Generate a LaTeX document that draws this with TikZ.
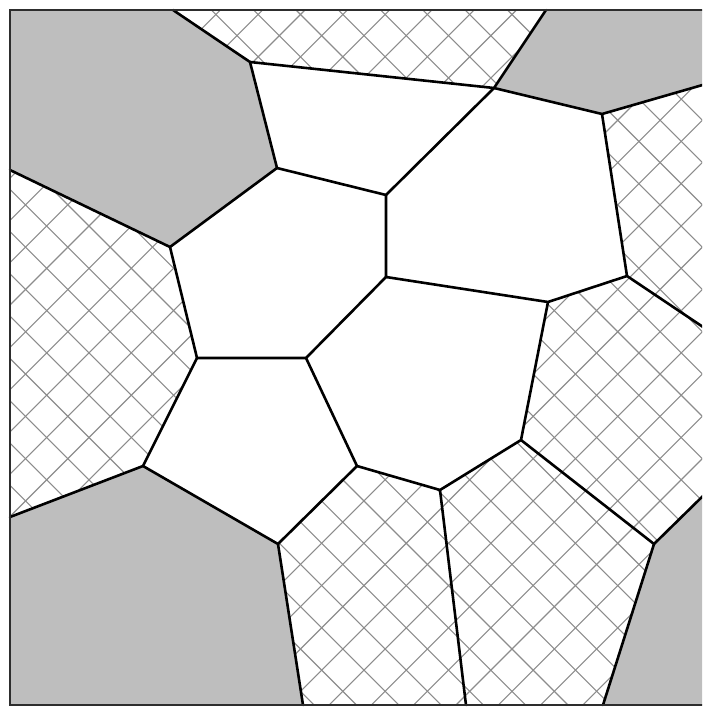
\documentclass[tikz,border=0pt]{standalone}
\definecolor{cellgray}{RGB}{190,190,190}
\definecolor{hatchgray}{RGB}{140,140,140}
\definecolor{framecol}{RGB}{45,45,45}
\begin{document}
\begin{tikzpicture}[x=1pt,y=-1pt,
  edge/.style={line width=2.6pt, line join=round, line cap=round, black},
  hatchline/.style={line width=1.1pt, hatchgray},
  solidcell/.style={fill=cellgray, draw=none}]
\useasboundingbox (0,0) rectangle (702,707);
\clip (0,0) rectangle (702,707);
% vertices
\coordinate (TL) at (10,10);
\coordinate (TR) at (706,10);
\coordinate (BL) at (10,705);
\coordinate (BR) at (706,705);
\coordinate (A) at (173,10);
\coordinate (B) at (250,62);
\coordinate (C) at (277,168);
\coordinate (D) at (170,247);
\coordinate (E) at (10,170);
\coordinate (F) at (494,88);
\coordinate (G) at (546,10);
\coordinate (H) at (602,114);
\coordinate (Hr) at (706,84);
\coordinate (I) at (386,195);
\coordinate (J) at (386,277);
\coordinate (K) at (548,302);
\coordinate (L) at (627,276);
\coordinate (Lr) at (706,329);
\coordinate (N) at (197,358);
\coordinate (O) at (306,358);
\coordinate (P) at (143,466);
\coordinate (Q) at (10,517);
\coordinate (R) at (278,544);
\coordinate (Rb) at (303,705);
\coordinate (S) at (357,466);
\coordinate (T) at (440,490);
\coordinate (Tb) at (466,705);
\coordinate (U) at (521,440);
\coordinate (V) at (654,544);
\coordinate (Vr) at (706,493);
\coordinate (Vb) at (603,705);
% solid grey cells
\fill[solidcell] (TL) -- (A) -- (B) -- (C) -- (D) -- (E) -- cycle;
\fill[solidcell] (G) -- (TR) -- (Hr) -- (H) -- (F) -- cycle;
\fill[solidcell] (Q) -- (P) -- (R) -- (Rb) -- (BL) -- cycle;
\fill[solidcell] (V) -- (Vr) -- (BR) -- (Vb) -- cycle;
% cross-hatched cells
\begin{scope}
\clip (A) -- (G) -- (F) -- (B) -- cycle
      (H) -- (Hr) -- (Lr) -- (L) -- cycle
      (E) -- (D) -- (N) -- (P) -- (Q) -- cycle
      (R) -- (S) -- (T) -- (Tb) -- (Rb) -- cycle
      (T) -- (U) -- (V) -- (Vb) -- (Tb) -- cycle
      (L) -- (Lr) -- (Vr) -- (V) -- (U) -- (K) -- cycle;
\foreach \k in {-13,...,24}{
  \pgfmathsetmacro{\hcc}{-221.6+\k*42.3}
  \draw[hatchline] (-10,{-10-\hcc}) -- (720,{720-\hcc});
}
\foreach \k in {-9,...,28}{
  \pgfmathsetmacro{\hdd}{315+\k*42.3}
  \draw[hatchline] (-10,{\hdd+10}) -- (720,{\hdd-720});
}
\end{scope}
% cell edges
\draw[edge] (A) -- (B) -- (C) -- (D) -- (E);
\draw[edge] (B) -- (F) -- (G);
\draw[edge] (F) -- (H) -- (Hr);
\draw[edge] (F) -- (I) -- (C);
\draw[edge] (I) -- (J) -- (K) -- (L) -- (H);
\draw[edge] (L) -- (Lr);
\draw[edge] (D) -- (N) -- (O) -- (J);
\draw[edge] (N) -- (P) -- (Q);
\draw[edge] (P) -- (R) -- (Rb);
\draw[edge] (O) -- (S) -- (R);
\draw[edge] (S) -- (T) -- (U) -- (K);
\draw[edge] (U) -- (V) -- (Vr);
\draw[edge] (V) -- (Vb);
\draw[edge] (T) -- (Tb);
% frame
\draw[line width=2.6pt, framecol, line join=miter] (TR) -- (TL) -- (BL) -- (BR);
\end{tikzpicture}
\end{document}
